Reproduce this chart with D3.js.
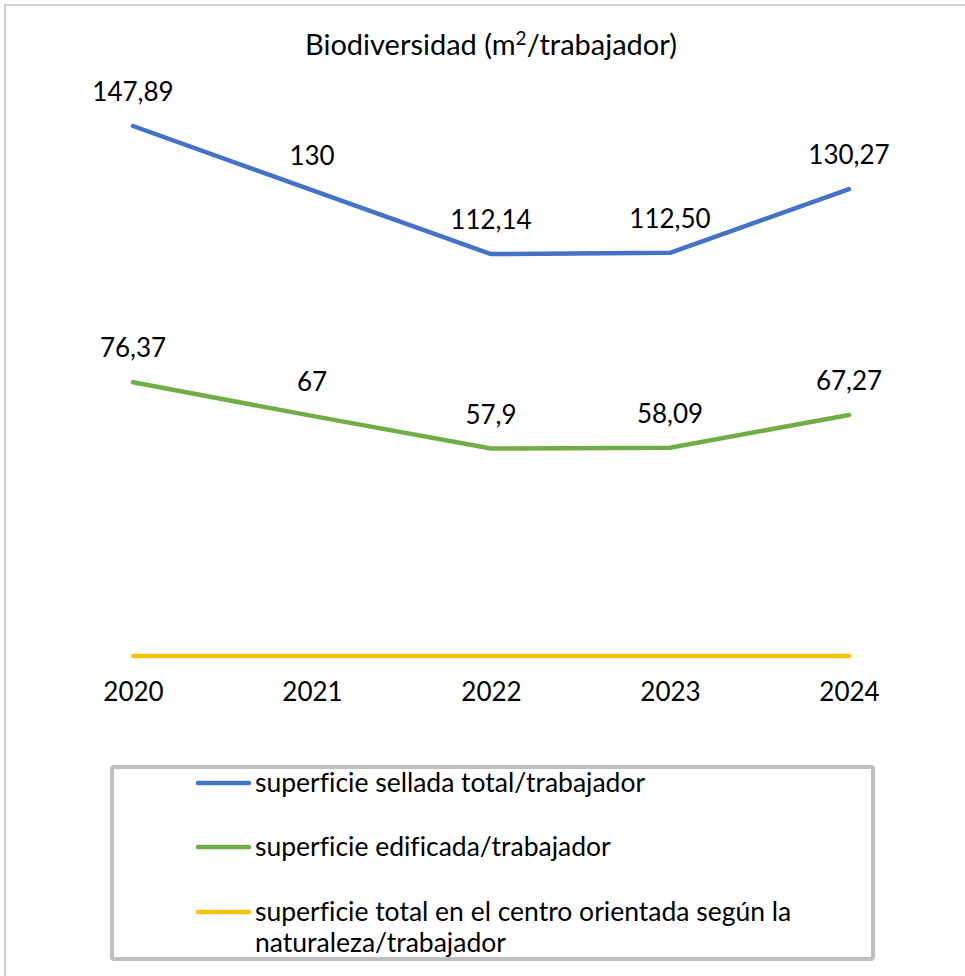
<!DOCTYPE html>
<html>
<head>
<meta charset="utf-8">
<script src="https://cdn.jsdelivr.net/npm/d3@7"></script>
<style>
  body { margin: 0; background: #fff; }
  text { font-family: Lato, "Open Sans", sans-serif; fill: #000; font-variant-ligatures: none; }
</style>
</head>
<body>
<div id="chart"></div>
<script>
var years = ["2020", "2021", "2022", "2023", "2024"];
var sellada = [147.89, 130, 112.14, 112.50, 130.27];
var selladaLabels = ["147,89", "130", "112,14", "112,50", "130,27"];
var edificada = [76.37, 67, 57.9, 58.09, 67.27];
var edificadaLabels = ["76,37", "67", "57,9", "58,09", "67,27"];
var natural = [0, 0, 0, 0, 0];
var seriesNames = [
    "superficie sellada total/trabajador",
    "superficie edificada/trabajador",
    ["superficie total en el centro orientada según la", "naturaleza/trabajador"]
];
var colors = ["#4472C4", "#70AD47", "#FFC000"];

var width = 965, height = 976;

var svg = d3.select("#chart")
            .append("svg")
                .attr("width", width)
                .attr("height", height);

// outer chart frame (only top/left visible)
svg.append("rect")
    .attr("x", 5).attr("y", 5)
    .attr("width", 1000).attr("height", 1000)
    .attr("fill", "none")
    .attr("stroke", "#d0d0d0")
    .attr("stroke-width", 2);

// title
var title = svg.append("text")
    .attr("x", 491).attr("y", 55)
    .attr("text-anchor", "middle")
    .style("font-size", "29px");
title.append("tspan").text("Biodiversidad (m");
title.append("tspan").attr("dy", -10).style("font-size", "19px").text("2");
title.append("tspan").attr("dy", 10).text("/trabajador)");

var x = d3.scalePoint().domain(years).range([133, 849]);
var y = d3.scaleLinear().domain([0, 160]).range([656, 82.6]);

var x_axis = d3.axisBottom(x).tickSize(0).tickPadding(0);
var gx = svg.append("g")
    .attr("transform", "translate(0,682)")
    .call(x_axis);
gx.select(".domain").remove();
gx.selectAll("text")
    .style("font-size", "26px")
    .style("font-family", "Lato, sans-serif")
    .attr("fill", "#000")
    .attr("dy", "0.72em");

var line = d3.line()
    .x(function(d, i) { return x(years[i]); })
    .y(function(d) { return y(d); });

var allSeries = [natural, edificada, sellada];
var allColors = [colors[2], colors[1], colors[0]];
allSeries.forEach(function(s, k) {
    svg.append("path")
        .datum(s)
        .attr("d", line)
        .attr("fill", "none")
        .attr("stroke", allColors[k])
        .attr("stroke-width", 4.5)
        .attr("stroke-linecap", "round")
        .attr("stroke-linejoin", "round");
});

function addLabels(vals, labels) {
    svg.append("g").selectAll("text")
        .data(vals)
        .enter().append("text")
        .attr("x", function(d, i) { return x(years[i]); })
        .attr("y", function(d) { return y(d) - 25; })
        .attr("text-anchor", "middle")
        .style("font-size", "26px")
        .text(function(d, i) { return labels[i]; });
}
addLabels(sellada, selladaLabels);
addLabels(edificada, edificadaLabels);

// legend
svg.append("rect")
    .attr("x", 112).attr("y", 767)
    .attr("width", 761).attr("height", 192)
    .attr("rx", 2)
    .attr("fill", "#fff")
    .attr("stroke", "#bfbfbf")
    .attr("stroke-width", 4);

var legendY = [783, 847, 912];
seriesNames.forEach(function(name, i) {
    svg.append("line")
        .attr("x1", 198).attr("x2", 249)
        .attr("y1", legendY[i]).attr("y2", legendY[i])
        .attr("stroke", colors[i])
        .attr("stroke-width", 4.5)
        .attr("stroke-linecap", "round");
    var lines = Array.isArray(name) ? name : [name];
    var t = svg.append("text")
        .attr("x", 255).attr("y", legendY[i] + 9)
        .style("font-size", "26.5px");
    lines.forEach(function(l, j) {
        t.append("tspan").attr("x", 255).attr("dy", j === 0 ? 0 : 31).text(l);
    });
});
</script>
</body>
</html>
